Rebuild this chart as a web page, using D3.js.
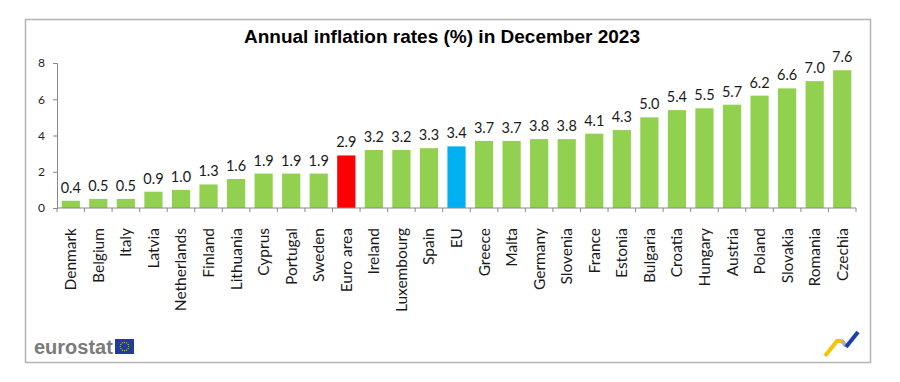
<!DOCTYPE html>
<html>
<head>
<meta charset="utf-8">
<script src="https://cdn.jsdelivr.net/npm/d3@7"></script>
<style>
  body { margin: 0; background: #fff; }
  svg { display: block; }
</style>
</head>
<body>
<script>
// Chart data
const countries = ["Denmark", "Belgium", "Italy", "Latvia", "Netherlands", "Finland", "Lithuania",
  "Cyprus", "Portugal", "Sweden", "Euro area", "Ireland", "Luxembourg", "Spain", "EU", "Greece",
  "Malta", "Germany", "Slovenia", "France", "Estonia", "Bulgaria", "Croatia", "Hungary", "Austria",
  "Poland", "Slovakia", "Romania", "Czechia"];
const rates = [0.4, 0.5, 0.5, 0.9, 1.0, 1.3, 1.6, 1.9, 1.9, 1.9, 2.9, 3.2, 3.2, 3.3, 3.4, 3.7,
  3.7, 3.8, 3.8, 4.1, 4.3, 5.0, 5.4, 5.5, 5.7, 6.2, 6.6, 7.0, 7.6];
const yTicks = [0, 2, 4, 6, 8];
const title = "Annual inflation rates (%) in December 2023";

const width = 900, height = 382;
const margin = { top: 63, left: 57, right: 44, bottom: 174 };

const svg = d3.select("body").append("svg")
  .attr("width", width)
  .attr("height", height);

// Frame
svg.append("rect")
  .attr("x", 25.5).attr("y", 19.5)
  .attr("width", 845).attr("height", 343)
  .attr("fill", "#fff")
  .attr("stroke", "#b4b4b4")
  .attr("stroke-width", 1.5);

// Scales
const x = d3.scaleBand()
  .domain(countries)
  .range([margin.left, width - margin.right])
  .paddingInner(0.34)
  .paddingOuter(0.17);

const y = d3.scaleLinear()
  .domain([0, 8])
  .range([height - margin.bottom, margin.top]);

// Title
svg.append("text")
  .attr("x", 442)
  .attr("y", 43)
  .attr("text-anchor", "middle")
  .attr("font-family", "Liberation Sans, Arial, sans-serif")
  .attr("font-weight", "bold")
  .attr("font-size", 19)
  .attr("fill", "#000")
  .text(title);

// Bars
const barColor = d => d === "Euro area" ? "#ff0000" : d === "EU" ? "#00b0f0" : "#92d050";

svg.selectAll("rect.bar")
  .data(countries)
  .enter()
  .append("rect")
  .attr("class", "bar")
  .attr("x", d => x(d))
  .attr("y", (d, i) => y(rates[i]))
  .attr("width", x.bandwidth())
  .attr("height", (d, i) => y(0) - y(rates[i]))
  .attr("fill", barColor);

// Value labels
svg.selectAll("text.val")
  .data(countries)
  .enter()
  .append("text")
  .attr("class", "val")
  .attr("x", d => x(d) + x.bandwidth() / 2)
  .attr("y", (d, i) => y(rates[i]) - 8)
  .attr("text-anchor", "middle")
  .attr("font-family", "Lato, sans-serif")
  .attr("font-size", 14.5)
  .attr("fill", "#1a1a1a")
  .text((d, i) => rates[i].toFixed(1));

// Y axis
const yAxis = svg.append("g")
  .attr("transform", `translate(${margin.left},0)`)
  .call(d3.axisLeft(y).tickValues(yTicks).tickSize(4).tickPadding(8));
yAxis.selectAll("path, line").attr("stroke", "#888");
yAxis.selectAll("text")
  .attr("font-family", "Lato, sans-serif")
  .attr("font-size", 12)
  .attr("fill", "#222");

// X axis: ticks between categories
const xAxis = svg.append("g")
  .attr("transform", `translate(0,${y(0)})`);
xAxis.append("line")
  .attr("x1", margin.left).attr("x2", width - margin.right)
  .attr("stroke", "#888");
xAxis.selectAll("line.tick")
  .data(d3.range(countries.length + 1))
  .enter()
  .append("line")
  .attr("class", "tick")
  .attr("x1", i => margin.left + i * x.step())
  .attr("x2", i => margin.left + i * x.step())
  .attr("y1", 0).attr("y2", 4)
  .attr("stroke", "#888");

// Category labels, rotated
xAxis.selectAll("text.cat")
  .data(countries)
  .enter()
  .append("text")
  .attr("class", "cat")
  .attr("transform", d => `translate(${x(d) + x.bandwidth() / 2 + 5.5},20) rotate(-90)`)
  .attr("text-anchor", "end")
  .attr("font-family", "Lato, sans-serif")
  .attr("font-size", 15.5)
  .attr("fill", "#1a1a1a")
  .text(d => d);

// Eurostat logo
svg.append("text")
  .attr("x", 34)
  .attr("y", 354)
  .attr("font-family", "Liberation Sans, Arial, sans-serif")
  .attr("font-weight", "bold")
  .attr("font-size", 20)
  .attr("fill", "#7b7b7b")
  .text("eurostat");
svg.append("rect")
  .attr("x", 115).attr("y", 339)
  .attr("width", 19).attr("height", 15)
  .attr("fill", "#1f3c9c");
svg.selectAll("circle.star")
  .data(d3.range(12))
  .enter()
  .append("circle")
  .attr("class", "star")
  .attr("cx", i => 124.5 + 4.2 * Math.cos(i * Math.PI / 6))
  .attr("cy", i => 346.5 + 4.2 * Math.sin(i * Math.PI / 6))
  .attr("r", 0.6)
  .attr("fill", "#f5d000");

// Corner ribbon mark
const rib = svg.append("g").attr("fill", "none").attr("stroke-width", 4).attr("stroke-linecap", "butt");
rib.append("path").attr("d", "M825,356 L837,341 L843,341").attr("stroke", "#f8c400");
rib.append("path").attr("d", "M842,341 L846,346").attr("stroke", "#b0b0b0");
rib.append("path").attr("d", "M846,347 L858,332").attr("stroke", "#1c3fb0");
</script>
</body>
</html>
